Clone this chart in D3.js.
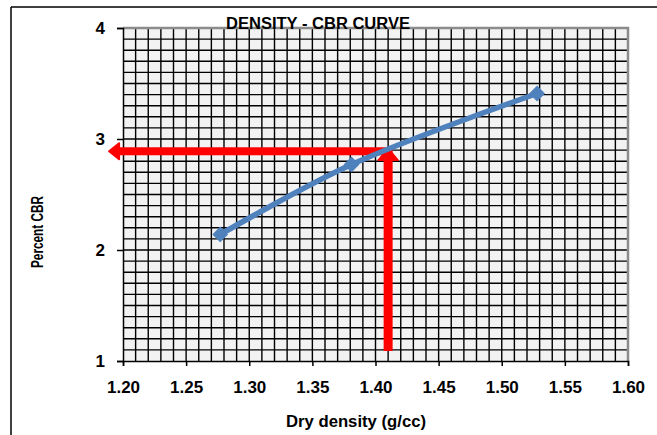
<!DOCTYPE html>
<html>
<head>
<meta charset="utf-8">
<script src="https://cdn.jsdelivr.net/npm/d3@7"></script>
<style>
  body { margin: 0; background: #fff; }
  text { font-family: Arial, "Liberation Sans", sans-serif; font-weight: bold; fill: #000; }
</style>
</head>
<body>
<div id="chart"></div>
<script>
// data
var densityVals = [1.277, 1.381, 1.528];
var cbrVals = [2.14, 2.77, 3.41];
var xTicks = [1.20, 1.25, 1.30, 1.35, 1.40, 1.45, 1.50, 1.55, 1.60];
var yTicks = [1, 2, 3, 4];
// red reading lines: density 1.41 -> CBR 2.89
var readDensity = [1.41];
var readCbr = [2.89];
var readLineBottom = [1.09];
var readArrowLeft = [1.189];

var W = 657, H = 435;
var margin = {top: 28, right: 29, bottom: 74, left: 123};
var width = W - margin.left - margin.right, height = H - margin.top - margin.bottom;

var svg = d3.select("#chart").append("svg")
    .attr("width", W)
    .attr("height", H);

// chart outer frame (only left and top edges are inside the picture)
svg.append("line").attr("x1", 11).attr("y1", 7).attr("x2", W).attr("y2", 7)
    .style("stroke", "#000").style("stroke-width", 1.5);
svg.append("line").attr("x1", 11).attr("y1", 7).attr("x2", 11).attr("y2", H)
    .style("stroke", "#000").style("stroke-width", 1.5);

var x = d3.scaleLinear().domain([1.2, 1.6]).range([0, width]);
var y = d3.scaleLinear().domain([1, 4]).range([height, 0]);

var g = svg.append("g").attr("transform", "translate(" + margin.left + "," + margin.top + ")");

g.append("rect")
    .attr("width", width)
    .attr("height", height)
    .style("fill", "#f2f2f2");

// minor grid
var xGrid = d3.range(1.21, 1.6, 0.01);
var yGrid = d3.range(1.1, 4.0, 0.1);
g.selectAll(".vgrid").data(xGrid).enter().append("line")
    .attr("class", "vgrid")
    .attr("x1", function (d) { return x(d); })
    .attr("x2", function (d) { return x(d); })
    .attr("y1", 0).attr("y2", height)
    .style("stroke", "#000").style("stroke-width", 1.4);
g.selectAll(".hgrid").data(yGrid).enter().append("line")
    .attr("class", "hgrid")
    .attr("y1", function (d) { return y(d); })
    .attr("y2", function (d) { return y(d); })
    .attr("x1", 0).attr("x2", width)
    .style("stroke", "#000").style("stroke-width", 1.4);

// plot border top/right
g.append("path")
    .attr("d", "M0,0H" + width + "V" + height)
    .style("fill", "none").style("stroke", "#8c8c8c").style("stroke-width", 2.5);

// axes
var xAxis = g.append("g")
    .attr("transform", "translate(0," + height + ")")
    .call(d3.axisBottom(x).tickValues(xTicks).tickFormat(d3.format(".2f")).tickSize(5).tickPadding(15));
var yAxis = g.append("g")
    .call(d3.axisLeft(y).tickValues(yTicks).tickFormat(d3.format("d")).tickSize(6).tickPadding(12));
[xAxis, yAxis].forEach(function (a) {
    a.select(".domain").style("stroke", "#000").style("stroke-width", 1.5);
    a.selectAll(".tick line").style("stroke", "#000").style("stroke-width", 1.5);
    a.selectAll("text")
        .style("font-size", "17px")
        .style("font-family", "Arial, 'Liberation Sans', sans-serif")
        .style("font-weight", "bold")
        .style("fill", "#000");
});

// red reading lines
var red = "#ff0000";
var rx = x(readDensity[0]), ry = y(readCbr[0]);
g.append("line")
    .attr("x1", rx).attr("x2", rx)
    .attr("y1", y(readLineBottom[0])).attr("y2", ry + 4)
    .style("stroke", red).style("stroke-width", 9);
g.append("line")
    .attr("x1", rx + 4.5).attr("x2", x(readArrowLeft[0]) + 9)
    .attr("y1", ry).attr("y2", ry)
    .style("stroke", red).style("stroke-width", 8);
// left arrowhead
var lx = x(readArrowLeft[0]);
g.append("path")
    .attr("d", "M" + lx + "," + ry + "L" + (lx + 10) + "," + (ry - 8) + "L" + (lx + 10) + "," + (ry + 8) + "Z")
    .style("fill", red).style("stroke", red).style("stroke-width", 2).style("stroke-linejoin", "round");
// up arrowhead
g.append("path")
    .attr("d", "M" + rx + "," + (ry - 3) + "L" + (rx + 10) + "," + (ry + 9) + "L" + (rx - 10) + "," + (ry + 9) + "Z")
    .style("fill", red).style("stroke", red).style("stroke-width", 1.5).style("stroke-linejoin", "round");

// density - CBR curve
var pts = densityVals.map(function (d, i) { return [d, cbrVals[i]]; });
var line = d3.line()
    .x(function (d) { return x(d[0]); })
    .y(function (d) { return y(d[1]); })
    .curve(d3.curveCatmullRom.alpha(0.5));
g.append("path")
    .datum(pts)
    .attr("d", line)
    .style("fill", "none")
    .style("stroke", "#4f81bd")
    .style("stroke-width", 5.5)
    .style("stroke-linecap", "round");
g.selectAll(".pt").data(pts).enter().append("path")
    .attr("class", "pt")
    .attr("transform", function (d) { return "translate(" + x(d[0]) + "," + y(d[1]) + ") rotate(45)"; })
    .attr("d", d3.symbol(d3.symbolSquare, 125))
    .style("fill", "#4f81bd");

// titles
svg.append("text")
    .attr("x", 318).attr("y", 29)
    .attr("text-anchor", "middle")
    .attr("textLength", 184).attr("lengthAdjust", "spacingAndGlyphs")
    .style("font-size", "16px")
    .text("DENSITY - CBR CURVE");

svg.append("text")
    .attr("x", 356).attr("y", 427)
    .attr("text-anchor", "middle")
    .attr("textLength", 140).attr("lengthAdjust", "spacingAndGlyphs")
    .style("font-size", "16px")
    .text("Dry density (g/cc)");

svg.append("text")
    .attr("transform", "translate(43,232) rotate(-90)")
    .attr("text-anchor", "middle")
    .attr("textLength", 72).attr("lengthAdjust", "spacingAndGlyphs")
    .style("font-size", "16px")
    .text("Percent CBR");
</script>
</body>
</html>
